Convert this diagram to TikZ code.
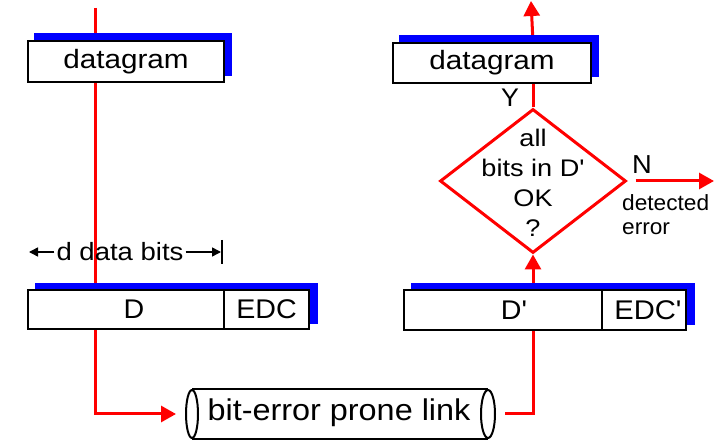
\documentclass[tikz,border=0pt]{standalone}
\usepackage{fontspec}
\setmainfont{Liberation Sans}
\usetikzlibrary{arrows.meta,shapes.geometric,calc}
\pgfdeclarelayer{lines}
\pgfdeclarelayer{shadows}
\pgfsetlayers{lines,shadows,main}
\newcommand\hs[2]{\scalebox{#1}[1]{#2}}
\newcommand\sq{\textquotesingle}
\begin{document}
\begin{tikzpicture}[x=1pt,y=-1pt,
  box/.style={draw=black,line width=2pt,fill=white,inner sep=0pt,anchor=north west},
  boxtext/.style={font=\fontsize{27}{30}\selectfont,inner sep=0pt},
  redline/.style={draw=red,line width=3pt},
  redarrow/.style={redline,-{Triangle[length=15pt,width=16pt]}},
  dimarrow/.style={draw=black,line width=1.5pt,-{Triangle[length=9pt,width=9pt]}},
  shadowfill/.style={fill=blue},
  plain/.style={inner sep=0pt}]
\useasboundingbox (0,0) rectangle (715,443);

% boxes
\node[box,minimum width=196pt,minimum height=41pt,
  label={[boxtext,font=\fontsize{26.5}{30}\selectfont]center:\hs{1.12}{datagram}}] (dg1) at (27,40) {};
\node[box,minimum width=198pt,minimum height=40pt,
  label={[boxtext,font=\fontsize{26.5}{30}\selectfont]center:\hs{1.12}{datagram}}] (dg2) at (392,42) {};
\node[box,minimum width=196pt,minimum height=39pt,
  label={[boxtext,xshift=8pt]center:\hs{1.06}{D}}] (D) at (27,289) {};
\node[box,minimum width=85pt,minimum height=39pt,
  label={[boxtext]center:\hs{1.06}{EDC}}] (EDC) at (223,289) {};
\node[box,minimum width=198pt,minimum height=40pt,
  label={[boxtext,xshift=11pt]center:\hs{1.06}{D\sq}}] (Dp) at (403,289) {};
\node[box,minimum width=84pt,minimum height=40pt,
  label={[boxtext,xshift=4pt]center:\hs{1.08}{EDC\sq}}] (EDCp) at (601,289) {};

% shadows
\begin{pgfonlayer}{shadows}
\fill[shadowfill] ($(dg1.north west)+(7,-7)$) rectangle ($(dg1.south east)+(7,-7)$);
\fill[shadowfill] ($(dg2.north west)+(7,-7)$) rectangle ($(dg2.south east)+(7,-7)$);
\fill[shadowfill] ($(D.north west)+(8,-6)$) rectangle ($(EDC.south east)+(8,-6)$);
\fill[shadowfill] ($(Dp.north west)+(8,-6)$) rectangle ($(EDCp.south east)+(8,-6)$);
\end{pgfonlayer}

% decision diamond
\node[diamond,draw=red,line width=3pt,minimum width=186pt,minimum height=144pt,inner sep=0pt,
  label={[plain,align=center,font=\fontsize{24}{30}\selectfont,yshift=-2pt]center:\hs{1.13}{all}\\\hs{1.13}{bits in D\sq}\\\hs{1.13}{OK}\\\hs{1.13}{?}}] (dia) at (533,181) {};

\node[plain,font=\fontsize{25.5}{28}\selectfont] (Y) at (510,98) {\hs{1.05}{Y}};
\node[plain,font=\fontsize{26}{28}\selectfont] (N) at (642,164.5) {\hs{1.05}{N}};
\node[plain,font=\fontsize{22}{24}\selectfont,align=left,anchor=north west] (det) at (622,194) {\hs{1.03}{detected}\\\hs{1.03}{error}};

% link
\node[plain,font=\fontsize{30}{34}\selectfont] (linktext) at (339,413) {\hs{1.08}{bit-error prone link}};
\node[ellipse,draw=black,line width=2pt,minimum width=12pt,minimum height=48pt,inner sep=0pt] (le) at (192,414) {};
\node[ellipse,draw=black,line width=2pt,minimum width=14pt,minimum height=48pt,inner sep=0pt] (re) at (488,414) {};
\draw[black,line width=2pt] (le.north) -- (re.north) (le.south) -- (re.south);

% d data bits dimension
\node[plain,font=\fontsize{25}{28}\selectfont,inner xsep=2pt] (dbits) at (120,252) {\hs{1.1}{d data bits}};
\coordinate (dl) at (29,252);
\coordinate (dr) at (221,252);
\coordinate (bt) at (222,240);
\coordinate (bb) at (222,264);
\draw[dimarrow] (dbits.west) -- (dl);
\draw[dimarrow] (dbits.east) -- (dr);
\draw[black,line width=1.5pt] (bt) -- (bb);

% red connectors
\coordinate (intop) at (95,8);
\coordinate (outtop) at (531,1);
\coordinate (nend) at (714,181);
\begin{pgfonlayer}{lines}
\draw[redarrow,shorten >=9pt] (intop) |- (le.west);
\draw[redline,shorten <=9pt] (re.east) -| (dia.south |- Dp.south);
\draw[redarrow] (dia.south |- Dp.north) -- (dia.south);
\draw[redline] (dia.north) -- (dia.north |- dg2.south);
\draw[redarrow] (dia.north |- dg2.north) -- (outtop);
\end{pgfonlayer}
\draw[redarrow,shorten <=8pt] (dia.east) -- (nend);
\end{tikzpicture}
\end{document}
